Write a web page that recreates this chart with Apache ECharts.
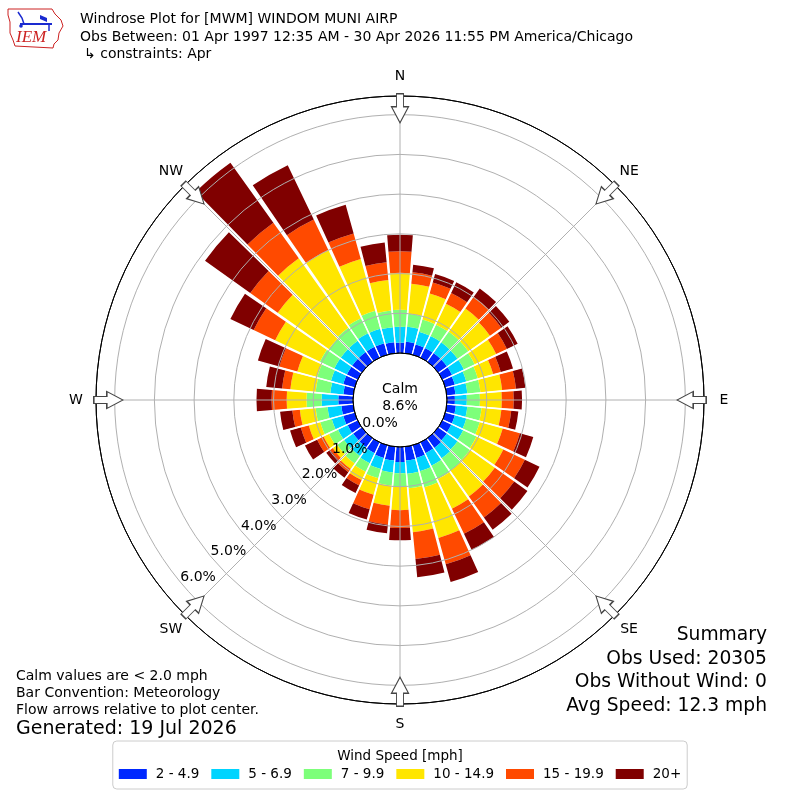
<!DOCTYPE html>
<html><head><meta charset="utf-8">
<script src="https://cdn.jsdelivr.net/npm/echarts@6/dist/echarts.min.js"></script>
<style>html,body{margin:0;padding:0;background:#fff}#c{width:800px;height:800px}</style>
</head><body><div id="c"></div>
<script>
// ---- data ----
const directions = [0,10,20,30,40,50,60,70,80,90,100,110,120,130,140,150,160,170,180,190,200,210,220,230,240,250,260,270,280,290,300,310,320,330,340,350];
const speedBins = ['2 - 4.9','5 - 6.9','7 - 9.9','10 - 14.9','15 - 19.9','20+'];
const binColors = ['#0028ff','#00d4ff','#7dff7a','#ffe600','#ff4a00','#800000'];
// percent of observations per direction, per speed bin
const bin2to5   = [0.26,0.29,0.27,0.27,0.27,0.27,0.27,0.25,0.22,0.20,0.23,0.25,0.25,0.27,0.30,0.30,0.33,0.35,0.38,0.35,0.33,0.30,0.28,0.27,0.28,0.30,0.30,0.37,0.25,0.30,0.30,0.30,0.30,0.30,0.30,0.28];
const bin5to7   = [0.40,0.38,0.33,0.33,0.33,0.33,0.33,0.30,0.30,0.30,0.29,0.30,0.33,0.33,0.32,0.35,0.35,0.33,0.28,0.30,0.29,0.28,0.27,0.28,0.27,0.30,0.35,0.42,0.33,0.32,0.35,0.35,0.35,0.38,0.38,0.38];
const bin7to10  = [0.43,0.33,0.32,0.32,0.33,0.33,0.30,0.30,0.33,0.33,0.36,0.35,0.37,0.38,0.38,0.37,0.42,0.37,0.35,0.33,0.24,0.24,0.23,0.21,0.25,0.30,0.30,0.38,0.37,0.36,0.40,0.37,0.40,0.42,0.47,0.42];
const bin10to15 = [0.93,0.76,0.68,0.58,0.72,0.67,0.60,0.40,0.55,0.55,0.50,0.60,0.75,0.77,0.80,0.83,1.32,1.11,0.58,0.51,0.43,0.23,0.17,0.14,0.15,0.30,0.40,0.50,0.64,0.52,1.25,1.58,2.15,1.90,1.35,0.77];
const bin15to20 = [0.54,0.29,0.29,0.30,0.36,0.35,0.30,0.20,0.35,0.30,0.25,0.45,0.60,0.60,0.65,0.70,0.69,0.68,0.45,0.48,0.38,0.15,0.10,0.08,0.18,0.21,0.19,0.38,0.21,0.47,0.60,0.85,1.10,0.85,0.67,0.45];
const bin20plus = [0.42,0.19,0.22,0.30,0.26,0.25,0.30,0.32,0.24,0.21,0.18,0.35,0.41,0.41,0.38,0.45,0.46,0.46,0.31,0.22,0.27,0.21,0.17,0.12,0.34,0.28,0.31,0.38,0.40,0.56,0.65,1.40,1.86,1.52,0.75,0.50];
const radialTicks = [0,1,2,3,4,5,6];
const compassAngles = [0,45,90,135,180,225,270,315];
const compassLabels = ['N','NE','E','SE','S','SW','W','NW'];
const calmPct = 8.6;
const summaryLines = ['Summary','Obs Used: 20305','Obs Without Wind: 0','Avg Speed: 12.3 mph'];
const noteLines = ['Calm values are < 2.0 mph','Bar Convention: Meteorology','Flow arrows relative to plot center.'];
const generated = 'Generated: 19 Jul 2026';
const titleLines = ['Windrose Plot for [MWM] WINDOM MUNI AIRP','Obs Between: 01 Apr 1997 12:35 AM - 30 Apr 2026 11:55 PM America/Chicago','\u21b3 constraints: Apr'];

const binData = [bin2to5,bin5to7,bin7to10,bin10to15,bin15to20,bin20plus];
const FONT = '"DejaVu Sans", sans-serif';
const RMAX = 6.47;
const CENTER = [400,400];
const RADII = [47,304];

const chart = echarts.init(document.getElementById('c'), null, {width:800,height:800,renderer:'canvas'});

const barSeries = speedBins.map((name,i)=>({
  name, type:'bar', coordinateSystem:'polar', polarIndex:0, stack:'wind',
  data: binData[i], barCategoryGap:'11%',
  itemStyle:{color:binColors[i]}, silent:true, z:2
}));

const arrowPath = 'path://M5,0 L12,0 L12,13 L17,13 L8.5,29 L0,13 L5,13 Z';
const plainLabel = {fontFamily:FONT, fontSize:14, color:'#000', textBorderWidth:0, textBorderColor:'transparent', textShadowBlur:0, opacity:1};

const option = {
  animation:false,
  backgroundColor:'#fff',
  textStyle:{fontFamily:FONT},
  title:{text:'Wind Speed [mph]', left:'center', top:744,
    textStyle:{fontFamily:FONT,fontSize:13.5,fontWeight:'normal',color:'#000'}},
  legend:{data:speedBins, left:'center', top:741, orient:'horizontal',
    itemWidth:28, itemHeight:10, itemGap:12, icon:'rect',
    padding:[26,6,8,6], borderColor:'#cccccc', borderWidth:1, borderRadius:4,
    textStyle:{fontFamily:FONT,fontSize:13.5,color:'#000',padding:[0,0,0,4]}},
  polar:[
    {center:CENTER, radius:RADII},
    {center:CENTER, radius:RADII},
    {center:CENTER, radius:RADII},
    {center:CENTER, radius:[0,324]}
  ],
  angleAxis:[
    {polarIndex:0, type:'category', data:directions, startAngle:95, clockwise:true,
     boundaryGap:true, axisLine:{show:false}, axisTick:{show:false}, axisLabel:{show:false}, splitLine:{show:false}},
    {polarIndex:1, type:'value', min:0, max:360, interval:45, startAngle:90, clockwise:true, z:5,
     axisLine:{show:true, lineStyle:{color:'#000',width:1}}, axisTick:{show:false}, axisLabel:{show:false},
     splitLine:{show:true, lineStyle:{color:'#b0b0b0',width:1}}},
    {polarIndex:2, type:'value', min:0, max:360, interval:10, startAngle:95, clockwise:true, z:3,
     axisLine:{show:false}, axisTick:{show:false}, axisLabel:{show:false},
     splitLine:{show:true, lineStyle:{color:'#ffffff',width:1.2}}},
    {polarIndex:3, type:'value', min:0, max:360, startAngle:90, clockwise:true,
     axisLine:{show:false}, axisTick:{show:false}, axisLabel:{show:false}, splitLine:{show:false}}
  ],
  radiusAxis:[
    {polarIndex:0, type:'value', min:0, max:RMAX, axisLine:{show:false}, axisTick:{show:false}, axisLabel:{show:false}, splitLine:{show:false}},
    {polarIndex:1, type:'value', min:0, max:RMAX, interval:1, z:5, axisLine:{show:false}, axisTick:{show:false}, axisLabel:{show:false},
     splitLine:{show:true, lineStyle:{color:['#000000','#b0b0b0','#b0b0b0','#b0b0b0','#b0b0b0','#b0b0b0','#b0b0b0','#000000'],width:1}}},
    {polarIndex:2, type:'value', min:0, max:RMAX, axisLine:{show:false}, axisTick:{show:false}, axisLabel:{show:false}, splitLine:{show:false}},
    {polarIndex:3, type:'value', min:0, max:1, axisLine:{show:false}, axisTick:{show:false}, axisLabel:{show:false}, splitLine:{show:false}}
  ],
  series:[
    ...barSeries,
    {type:'scatter', coordinateSystem:'polar', polarIndex:1, symbolSize:0, silent:true, z:6,
     data: radialTicks.map(v=>[v,229.8]),
     itemStyle:{color:'#000'},
     label:{show:true, position:'inside', offset:[16,-7], ...plainLabel,
       formatter:p=>p.value[0].toFixed(1)+'%'}},
    {type:'scatter', coordinateSystem:'polar', polarIndex:3, symbolSize:0, silent:true, z:6,
     data: compassAngles.map((a,i)=>({value:[1,a], name:compassLabels[i]})),
     itemStyle:{color:'#000'},
     label:{show:true, position:'inside', ...plainLabel, formatter:p=>p.name}},
    {type:'scatter', coordinateSystem:'polar', polarIndex:1, symbol:arrowPath, symbolSize:[17,29], silent:true, z:7,
     data: compassAngles.map(a=>({value:[6.16,a], symbolRotate:-a})),
     itemStyle:{color:'#ffffff', borderColor:'#444444', borderWidth:1.2, opacity:1}}
  ],
  graphic:[
    {type:'text', style:{x:400,y:389,text:'Calm',font:'14px '+FONT,fill:'#000',textAlign:'center',textVerticalAlign:'middle'}},
    {type:'text', style:{x:400,y:406,text:calmPct.toFixed(1)+'%',font:'14px '+FONT,fill:'#000',textAlign:'center',textVerticalAlign:'middle'}},
    {type:'text', style:{x:80,y:19,text:titleLines[0],font:'14px '+FONT,fill:'#000',textVerticalAlign:'middle'}},
    {type:'text', style:{x:80,y:37,text:titleLines[1],font:'14px '+FONT,fill:'#000',textVerticalAlign:'middle'}},
    {type:'text', style:{x:84,y:54,text:titleLines[2],font:'14px '+FONT,fill:'#000',textVerticalAlign:'middle'}},
    ...noteLines.map((t,i)=>({type:'text', style:{x:16,y:676+i*17,text:t,font:'14px '+FONT,fill:'#000',textVerticalAlign:'middle'}})),
    {type:'text', style:{x:16,y:729,text:generated,font:'19px '+FONT,fill:'#000',textVerticalAlign:'middle'}},
    ...summaryLines.map((t,i)=>({type:'text', style:{x:767,y:635+i*23.7,text:t,font:'18.7px '+FONT,fill:'#000',textAlign:'right',textVerticalAlign:'middle'}})),
    // IEM logo (decorative)
    {type:'polygon', shape:{points:[[8,9],[52,9],[55,14],[61,20],[63,26],[59,33],[58,40],[54,44],[53,48],[15,46],[13,40],[10,33],[10,22],[8,15]]},
     style:{fill:'none',stroke:'#cc2222',lineWidth:1}},
    {type:'polyline', shape:{points:[[20,24],[52,24]]}, style:{stroke:'#1a2ad0',lineWidth:2}},
    {type:'polyline', shape:{points:[[18,12],[22,18],[24,24]]}, style:{stroke:'#1a2ad0',lineWidth:1.5}},
    {type:'polygon', shape:{points:[[40,15],[47,18],[47,22],[40,19]]}, style:{fill:'#1a2ad0'}},
    {type:'polyline', shape:{points:[[49,24],[49,31]]}, style:{stroke:'#1a2ad0',lineWidth:1.5}},
    {type:'circle', shape:{cx:21,cy:26,r:1.8}, style:{fill:'#1a2ad0'}},
    {type:'text', style:{x:16,y:38,text:'IEM',font:'italic 17px "Liberation Serif", serif',fill:'#cc2222',textVerticalAlign:'middle'}}
  ]
};
chart.setOption(option);
</script></body></html>
